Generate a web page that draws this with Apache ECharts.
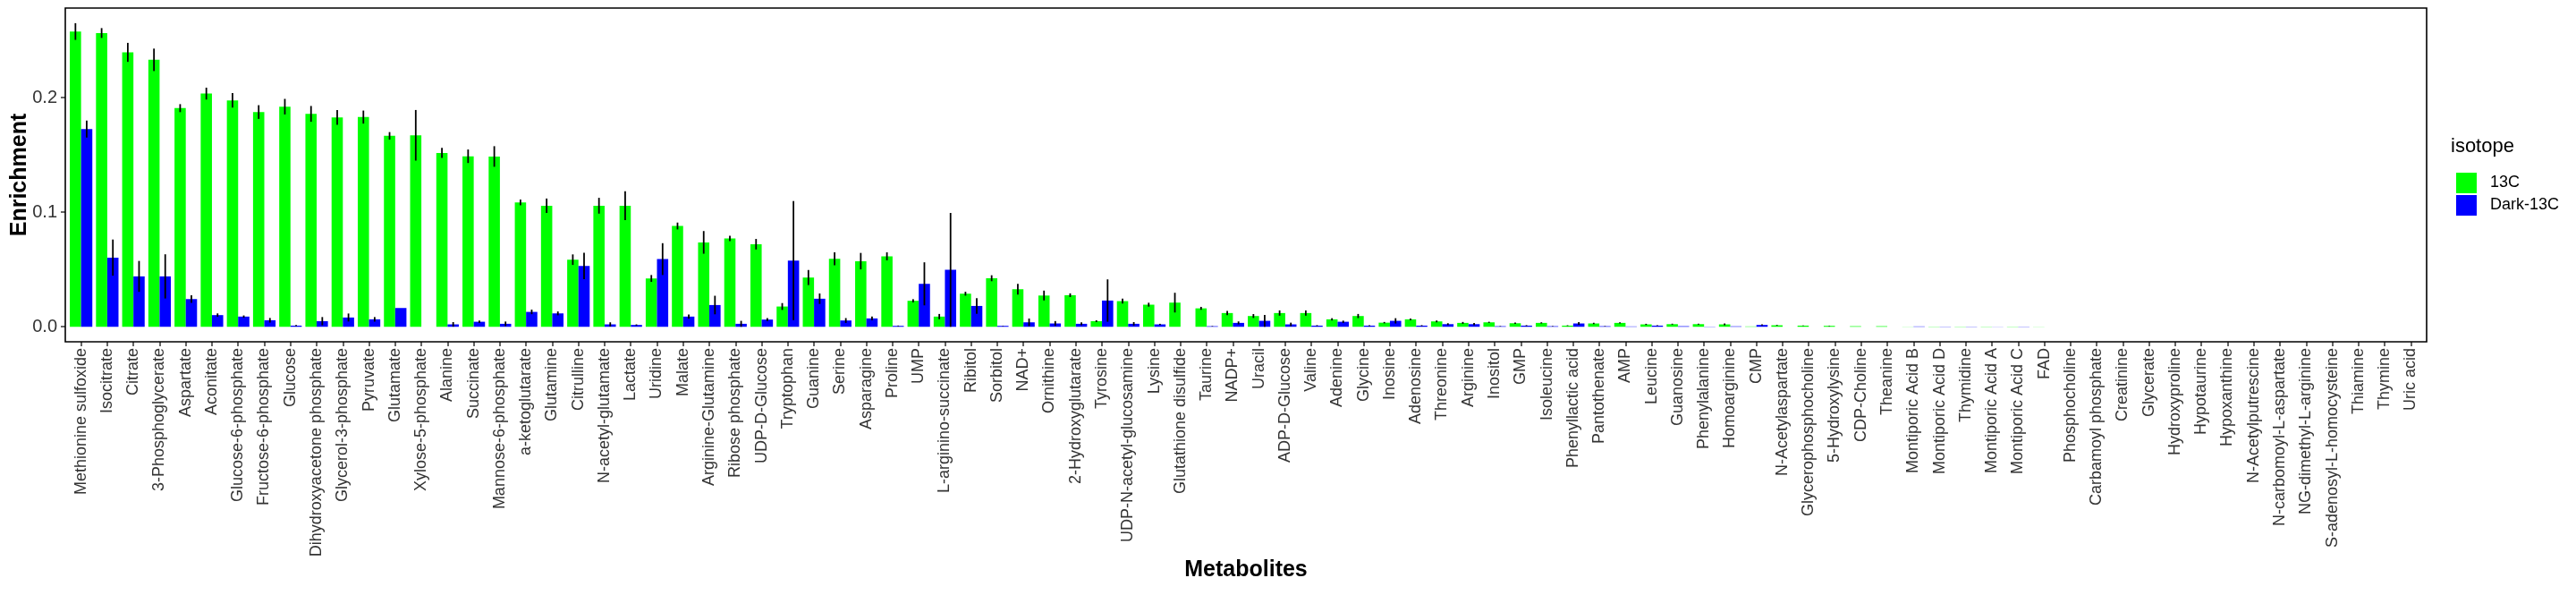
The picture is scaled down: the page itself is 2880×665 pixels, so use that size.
<!DOCTYPE html>
<html>
<head>
<meta charset="utf-8">
<script src="https://cdn.jsdelivr.net/npm/echarts@6/dist/echarts.min.js"></script>
<style>
html,body{margin:0;padding:0;background:#fff;}
#chart{width:2880px;height:665px;}
</style>
</head>
<body>
<div id="chart"></div>
<script>
const categories = [
"Methionine sulfoxide","Isocitrate","Citrate","3-Phosphoglycerate","Aspartate","Aconitate",
"Glucose-6-phosphate","Fructose-6-phosphate","Glucose","Dihydroxyacetone phosphate","Glycerol-3-phosphate","Pyruvate",
"Glutamate","Xylose-5-phosphate","Alanine","Succinate","Mannose-6-phosphate","a-ketoglutarate",
"Glutamine","Citrulline","N-acetyl-glutamate","Lactate","Uridine","Malate",
"Arginine-Glutamine","Ribose phosphate","UDP-D-Glucose","Tryptophan","Guanine","Serine",
"Asparagine","Proline","UMP","L-arginino-succinate","Ribitol","Sorbitol",
"NAD+","Ornithine","2-Hydroxyglutarate","Tyrosine","UDP-N-acetyl-glucosamine","Lysine",
"Glutathione disulfide","Taurine","NADP+","Uracil","ADP-D-Glucose","Valine",
"Adenine","Glycine","Inosine","Adenosine","Threonine","Arginine",
"Inositol","GMP","Isoleucine","Phenyllactic acid","Pantothenate","AMP",
"Leucine","Guanosine","Phenylalanine","Homoarginine","CMP","N-Acetylaspartate",
"Glycerophosphocholine","5-Hydroxylysine","CDP-Choline","Theanine","Montiporic Acid B","Montiporic Acid D",
"Thymidine","Montiporic Acid A","Montiporic Acid C","FAD","Phosphocholine","Carbamoyl phosphate",
"Creatinine","Glycerate","Hydroxyproline","Hypotaurine","Hypoxanthine","N-Acetylputrescine",
"N-carbomoyl-L-aspartate","NG-dimethyl-L-arginine","S-adenosyl-L-homocysteine","Thiamine","Thymine","Uric acid"
];

const enrich13C = [
0.2578,0.2565,0.2396,0.2331,0.1909,0.2036,
0.1977,0.1875,0.1922,0.1859,0.1828,0.1831,
0.1667,0.1672,0.1518,0.1489,0.1487,0.1086,
0.1057,0.0586,0.1057,0.1057,0.0422,0.0880,
0.0737,0.0771,0.0721,0.0177,0.0430,0.0594,
0.0573,0.0615,0.0227,0.0089,0.0289,0.0424,
0.0328,0.0273,0.0276,0.0049,0.0224,0.0193,
0.0211,0.0161,0.0120,0.0094,0.0120,0.0120,
0.0065,0.0094,0.0036,0.0065,0.0047,0.0034,
0.0039,0.0031,0.0034,0.0010,0.0029,0.0034,
0.0021,0.0023,0.0023,0.0021,0.0003,0.0013,
0.0010,0.0008,0.0005,0.0005,0.0001,0.0002,
0.0002,0.0002,0.0002,0.0001,0,0,
0,0,0,0,0,0,
0,0,0,0,0,0
];
const err13C = [
0.0073,0.0043,0.0083,0.0098,0.0035,0.0052,
0.0064,0.0060,0.0068,0.0069,0.0065,0.0057,
0.0033,0.0221,0.0044,0.0059,0.0090,0.0025,
0.0063,0.0046,0.0069,0.0126,0.0030,0.0030,
0.0099,0.0023,0.0046,0.0030,0.0066,0.0057,
0.0072,0.0035,0.0014,0.0023,0.0017,0.0026,
0.0046,0.0043,0.0016,0.0008,0.0021,0.0017,
0.0086,0.0013,0.0018,0.0017,0.0023,0.0023,
0.0010,0.0018,0.0006,0.0008,0.0008,0.0008,
0.0005,0.0006,0.0005,0.0003,0.0006,0.0005,
0.0005,0.0004,0.0004,0.0008,0,0.0003,
0.0002,0.0002,0,0,0,0,
0,0,0,0,0,0,
0,0,0,0,0,0,
0,0,0,0,0,0
];
const enrichDark = [
0.1727,0.0604,0.0440,0.0440,0.0242,0.0102,
0.0089,0.0057,0.0010,0.0049,0.0081,0.0065,
0.0164,0,0.0021,0.0044,0.0026,0.0130,
0.0117,0.0531,0.0021,0.0016,0.0591,0.0089,
0.0190,0.0026,0.0063,0.0578,0.0245,0.0055,
0.0073,0.0008,0.0375,0.0497,0.0182,0.0008,
0.0039,0.0029,0.0026,0.0229,0.0026,0.0021,
0,0.0005,0.0034,0.0052,0.0021,0.0010,
0.0044,0.0010,0.0052,0.0010,0.0023,0.0023,
0.0005,0.0010,0.0005,0.0029,0.0005,0.0003,
0.0010,0.0005,0.0002,0.0004,0.0016,0,
0,0,0,0,0.0003,0.0002,
0.0002,0.0001,0.0002,0,0,0,
0,0,0,0,0,0,
0,0,0,0,0,0
];
const errDark = [
0.0074,0.0158,0.0135,0.0193,0.0033,0.0015,
0.0010,0.0020,0.0005,0.0036,0.0035,0.0020,
0,0,0.0020,0.0010,0.0020,0.0020,
0.0017,0.0115,0.0018,0.0005,0.0139,0.0018,
0.0081,0.0026,0.0013,0.0520,0.0046,0.0021,
0.0016,0.0003,0.0188,0.0497,0.0068,0.0002,
0.0033,0.0021,0.0013,0.0185,0.0015,0.0005,
0,0.0002,0.0013,0.0052,0.0015,0.0004,
0.0010,0.0004,0.0023,0.0004,0.0008,0.0010,
0.0002,0.0004,0.0002,0.0012,0.0002,0,
0.0003,0,0,0,0.0005,0,
0,0,0,0,0,0,
0,0,0,0,0,0,
0,0,0,0,0,0,
0,0,0,0,0,0
];
const yTicks = [0, 0.1, 0.2];

const GREEN = '#00FF00', BLUE = '#0000FF';
const BAR_FRAC = 0.43;
const FONT = '"Liberation Sans", Arial, Helvetica, sans-serif';

function barData(vals){
  return vals.map(v => v === 0 ? '-' : v);
}
function errData(vals, errs){
  return vals.map((v,i)=>[i, v - errs[i], v + errs[i]]);
}
function errRender(offset){
  return function(params, api){
    const i = api.value(0), lo = api.value(1), hi = api.value(2);
    if (!(hi - lo > 0)) return;
    const band = api.size([1,0])[0];
    const p1 = api.coord([i, lo]), p2 = api.coord([i, hi]);
    const x = p1[0] + offset * band * BAR_FRAC / 2;
    return {type:'line', shape:{x1:x, y1:p1[1], x2:x, y2:p2[1]},
            style:{stroke:'#000', lineWidth:1.8}};
  };
}

const chart = echarts.init(document.getElementById('chart'), null, {renderer:'canvas'});
chart.setOption({
  animation:false,
  backgroundColor:'#fff',
  grid:{left:76, right:170, top:9, bottom:283, containLabel:false},
  xAxis:{
    type:'category', data:categories, boundaryGap:true,
    axisLine:{show:false, onZero:false},
    axisTick:{show:true, alignWithLabel:true, length:5, lineStyle:{color:'#333', width:1.5}},
    axisLabel:{interval:0, rotate:90, margin:7, fontSize:18, color:'#333', fontFamily:FONT},
    splitLine:{show:false}
  },
  yAxis:{
    type:'value', min:-0.0131, max:0.2783, offset:3,
    axisLine:{show:false, onZero:false},
    axisTick:{show:true, length:5, customValues:yTicks, lineStyle:{color:'#333', width:1.5}},
    axisLabel:{customValues:yTicks, margin:9, fontSize:20, color:'#333', fontFamily:FONT,
               formatter:v=>Number(v).toFixed(1)},
    splitLine:{show:false}
  },
  legend:{
    data:['13C','Dark-13C'], orient:'vertical', left:2741, top:188,
    itemWidth:23, itemHeight:23, itemGap:2, icon:'rect',
    textStyle:{fontSize:18, color:'#000', fontFamily:FONT, padding:[0,0,0,10]}
  },
  series:[
    {name:'13C', type:'bar', data:barData(enrich13C), barWidth:(BAR_FRAC*100)+'%', barGap:'0%',
     itemStyle:{color:GREEN}},
    {name:'Dark-13C', type:'bar', data:barData(enrichDark), barWidth:(BAR_FRAC*100)+'%', barGap:'0%',
     itemStyle:{color:BLUE}},
    {name:'err13C', type:'custom', renderItem:errRender(-1), data:errData(enrich13C, err13C),
     encode:{x:0, y:[1,2]}, z:10, silent:true},
    {name:'errDark', type:'custom', renderItem:errRender(1), data:errData(enrichDark, errDark),
     encode:{x:0, y:[1,2]}, z:10, silent:true}
  ],
  graphic:[
    {type:'rect', shape:{x:73, y:9, width:2640, height:373}, z:100,
     style:{fill:'none', stroke:'#000', lineWidth:1.6}},
    {type:'text', x:22, y:195.5, rotation:Math.PI/2, z:100,
     style:{text:'Enrichment', fontSize:25, fontWeight:'bold', fill:'#000', fontFamily:FONT,
            align:'center', verticalAlign:'middle'}},
    {type:'text', x:1393, y:637, z:100,
     style:{text:'Metabolites', fontSize:25, fontWeight:'bold', fill:'#000', fontFamily:FONT,
            align:'center', verticalAlign:'middle'}},
    {type:'text', x:2740, y:164, z:100,
     style:{text:'isotope', fontSize:22, fill:'#000', fontFamily:FONT,
            align:'left', verticalAlign:'middle'}}
  ]
});
</script>
</body>
</html>
